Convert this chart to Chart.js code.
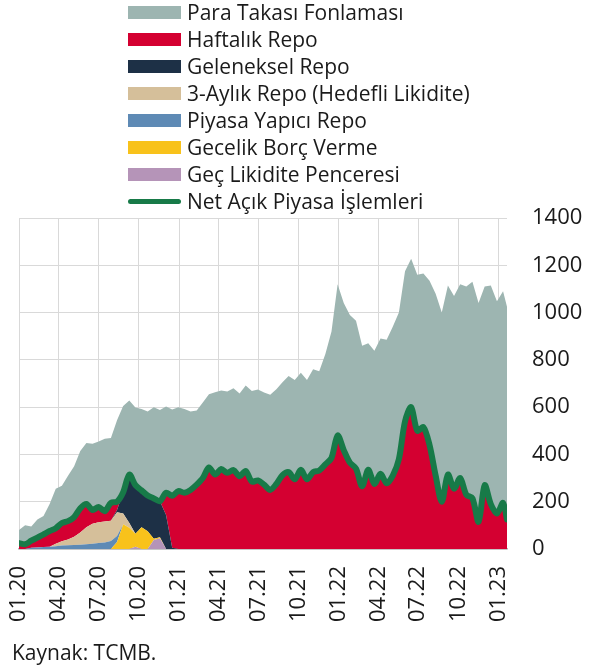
<!DOCTYPE html>
<html lang="tr">
<head>
<meta charset="utf-8">
<title>Açık Piyasa İşlemleri</title>
<script src="https://cdn.jsdelivr.net/npm/chart.js@4.4.1/dist/chart.umd.min.js"></script>
<style>
  body { margin: 0; background: #fff; font-family: "Open Sans", sans-serif; color: #1a1a1a; }
  .wrap { position: relative; width: 611px; height: 670px; }
  #chart { position: absolute; left: 0; top: 0; }
  #legend { position: absolute; left: 128px; top: 0; }
  .item { position: absolute; left: 0; height: 27px; display: flex; align-items: center; white-space: nowrap; font-size: 21px; line-height: 27px; }
  .box { width: 53px; height: 13px; margin-right: 6px; }
  .line { width: 53px; height: 5px; border-radius: 3px; margin-right: 6px; }
  #source { position: absolute; left: 12px; top: 640px; font-size: 21px; line-height: 24px; }
</style>
</head>
<body>
<div class="wrap">
  <canvas id="chart" width="611" height="670"></canvas>
  <div id="legend"></div>
  <div id="source">Kaynak: TCMB.</div>
</div>
<script>
// iki haftalik tarihler
const dates = [
  '2020-01-01','2020-01-15','2020-01-29','2020-02-12','2020-02-26','2020-03-11','2020-03-25','2020-04-08','2020-04-22','2020-05-06',
  '2020-05-20','2020-06-03','2020-06-17','2020-07-01','2020-07-15','2020-07-29','2020-08-12','2020-08-26','2020-09-09','2020-09-23',
  '2020-10-07','2020-10-21','2020-11-04','2020-11-18','2020-12-02','2020-12-16','2020-12-30','2021-01-13','2021-01-27','2021-02-10',
  '2021-02-24','2021-03-10','2021-03-24','2021-04-07','2021-04-21','2021-05-05','2021-05-19','2021-06-02','2021-06-16','2021-06-30',
  '2021-07-14','2021-07-28','2021-08-11','2021-08-25','2021-09-08','2021-09-22','2021-10-06','2021-10-20','2021-11-03','2021-11-17',
  '2021-12-01','2021-12-15','2021-12-29','2022-01-12','2022-01-26','2022-02-09','2022-02-23','2022-03-09','2022-03-23','2022-04-06',
  '2022-04-20','2022-05-04','2022-05-18','2022-06-01','2022-06-15','2022-06-29','2022-07-13','2022-07-27','2022-08-10','2022-08-24',
  '2022-09-07','2022-09-21','2022-10-05','2022-10-19','2022-11-02','2022-11-16','2022-11-30','2022-12-14','2022-12-28','2023-01-11',
  '2023-01-20'
];
const tickLabels = ['01.20','04.20','07.20','10.20','01.21','04.21','07.21','10.21','01.22','04.22','07.22','10.22','01.23'];

// milyar TL
const paraTakasi = [
  55,80,60,77,78,114,167,158,192,215,
  243,258,280,277,306,275,345,365,313,328,
  344,356,386,386,365,365,355,354,332,314,
  320,310,348,332,344,346,350,362,383,385,
  390,402,401,393,407,420,410,420,435,420,
  467,535,640,622,625,625,595,535,563,572,
  607,630,620,635,628,660,650,695,770,800,
  800,815,820,880,915,925,840,925,898,895,
  900
];
const haftalik = [
  25,20,30,42,54,66,66,77,78,83,
  102,98,58,65,44,76,35,0,0,0,
  0,0,0,0,94,220,245,238,250,272,
  300,345,315,338,322,334,308,330,285,290,
  272,250,275,312,325,295,335,295,325,332,
  358,385,480,418,365,340,265,335,275,318,
  278,310,380,540,600,500,515,440,310,200,
  315,255,300,230,215,115,270,190,150,195,
  125
];
const geleneksel = [
  0,0,0,0,0,0,0,0,0,0,
  0,0,0,0,0,0,10,90,205,205,
  156,151,171,152,144,5,0,0,0,0,
  0,0,0,0,0,0,0,0,0,0,
  0,0,0,0,0,0,0,0,0,0,
  0,0,0,0,0,0,0,0,0,0,
  0,0,0,0,0,0,0,0,0,0,
  0,0,0,0,0,0,0,0,0,0,
  0
];
const ucAylik = [
  0,0,0,0,0,0,10,18,24,35,
  52,72,85,88,88,85,100,45,20,0,
  0,0,0,0,0,0,0,0,0,0,
  0,0,0,0,0,0,0,0,0,0,
  0,0,0,0,0,0,0,0,0,0,
  0,0,0,0,0,0,0,0,0,0,
  0,0,0,0,0,0,0,0,0,0,
  0,0,0,0,0,0,0,0,0,0,
  0
];
const piyasaYapici = [
  0,0,5,6,8,10,12,15,16,17,
  18,20,22,25,28,34,25,0,0,0,
  0,0,0,0,0,0,0,0,0,0,
  0,0,0,0,0,0,0,0,0,0,
  0,0,0,0,0,0,0,0,0,0,
  0,0,0,0,0,0,0,0,0,0,
  0,0,0,0,0,0,0,0,0,0,
  0,0,0,0,0,0,0,0,0,0,
  0
];
const gecelik = [
  0,0,0,0,0,0,0,0,0,0,
  0,0,0,0,0,0,30,105,90,55,
  92,75,5,5,0,0,0,0,0,0,
  0,0,0,0,0,0,0,0,0,0,
  0,0,0,0,0,0,0,0,0,0,
  0,0,0,0,0,0,0,0,0,0,
  0,0,0,0,0,0,0,0,0,0,
  0,0,0,0,0,0,0,0,0,0,
  0
];
const gecLikidite = [
  0,0,0,0,0,0,0,0,0,0,
  0,0,0,0,0,0,0,0,0,10,
  0,0,38,45,0,0,0,0,0,0,
  0,0,0,0,0,0,0,0,0,0,
  0,0,0,0,0,0,0,0,0,0,
  0,0,0,0,0,0,0,0,0,0,
  0,0,0,0,0,0,0,0,0,0,
  0,0,0,0,0,0,0,0,0,0,
  0
];
const netAPI = [
  25,20,35,48,62,76,88,110,118,135,
  172,190,165,178,160,195,200,240,315,270,
  248,226,214,202,238,225,245,238,250,272,
  300,345,315,338,322,334,308,330,285,290,
  272,250,275,312,325,295,335,295,325,332,
  358,385,480,418,365,340,265,335,275,318,
  278,310,380,540,600,500,515,440,310,200,
  315,255,300,230,215,115,270,190,150,195,
  125
];

const day0 = Date.UTC(2020, 0, 1);
const xs = dates.map(d => (Date.parse(d) - day0) / 86400000);
const tickDays = tickLabels.map(t => {
  const [m, y] = t.split('.');
  return (Date.UTC(2000 + Number(y), Number(m) - 1, 1) - day0) / 86400000;
});
const pts = arr => arr.map((v, i) => ({ x: xs[i], y: v }));

// alttan uste yigin sirasi
const areas = [
  { label: 'Geç Likidite Penceresi', data: gecLikidite, color: '#b594b8' },
  { label: 'Gecelik Borç Verme', data: gecelik, color: '#f8c21b' },
  { label: 'Piyasa Yapıcı Repo', data: piyasaYapici, color: '#5e8ab5' },
  { label: '3-Aylık Repo (Hedefli Likidite)', data: ucAylik, color: '#d5bf9a' },
  { label: 'Geleneksel Repo', data: geleneksel, color: '#1d3046' },
  { label: 'Haftalık Repo', data: haftalik, color: '#d40031' },
  { label: 'Para Takası Fonlaması', data: paraTakasi, color: '#9db5b1' }
];
const netColor = '#177a48';

const datasets = areas.map((a, i) => ({
  label: a.label,
  data: pts(a.data),
  stack: 'omo',
  backgroundColor: a.color,
  borderColor: 'rgba(0,0,0,0)',
  borderWidth: 0,
  fill: i === 0 ? 'origin' : '-1',
  pointRadius: 0,
  tension: 0
}));
datasets.push({
  label: 'Net Açık Piyasa İşlemleri',
  data: pts(netAPI),
  stack: 'net',
  order: -1,
  borderColor: netColor,
  borderWidth: 6,
  borderCapStyle: 'round',
  borderJoinStyle: 'round',
  fill: false,
  pointRadius: 0,
  tension: 0.3
});

// legend (html)
const legendEl = document.getElementById('legend');
const legendRows = areas.slice().reverse().map(a => ({ label: a.label, color: a.color, line: false }));
legendRows.push({ label: 'Net Açık Piyasa İşlemleri', color: netColor, line: true });
legendRows.forEach((r, i) => {
  const row = document.createElement('div');
  row.className = 'item';
  row.style.top = (-1.5 + 27 * i) + 'px';
  const sw = document.createElement('span');
  sw.className = r.line ? 'line' : 'box';
  sw.style.background = r.color;
  const tx = document.createElement('span');
  tx.textContent = r.label;
  row.appendChild(sw);
  row.appendChild(tx);
  legendEl.appendChild(row);
});

Chart.defaults.font.family = '"Open Sans", sans-serif';
Chart.defaults.color = '#1a1a1a';

new Chart(document.getElementById('chart'), {
  type: 'line',
  data: { datasets: datasets },
  options: {
    responsive: false,
    animation: false,
    layout: { padding: { left: 19, top: 218, right: 0, bottom: 0 } },
    plugins: { legend: { display: false }, tooltip: { enabled: false } },
    scales: {
      x: {
        type: 'linear',
        min: 0,
        max: xs[xs.length - 1],
        afterBuildTicks: s => { s.ticks = tickDays.map(v => ({ value: v })); },
        afterFit: s => { s.height = 121; },
        ticks: {
          autoSkip: false,
          minRotation: 90,
          maxRotation: 90,
          padding: 17,
          font: { size: 22 },
          callback: (v, i) => tickLabels[i]
        },
        grid: { color: '#d9d9d9', drawTicks: false },
        border: { color: '#b3b3b3', width: 1.5 }
      },
      y: {
        position: 'right',
        stacked: true,
        min: 0,
        max: 1400,
        afterFit: s => { s.width = 104; },
        ticks: {
          stepSize: 200,
          padding: 25,
          font: { size: 22 },
          callback: v => String(v)
        },
        grid: { color: '#d9d9d9', drawTicks: false },
        border: { display: false }
      }
    }
  }
});
</script>
</body>
</html>
